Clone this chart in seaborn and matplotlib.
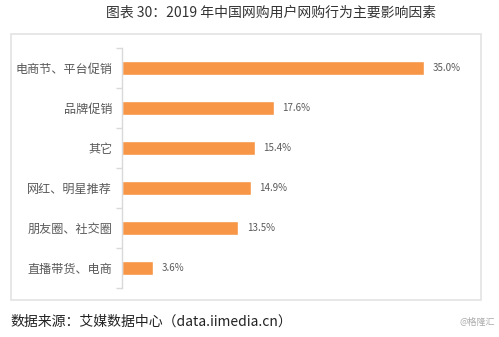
import matplotlib
matplotlib.use("Agg")
import matplotlib.pyplot as plt
import seaborn as sns
import pandas as pd
from matplotlib.patches import Rectangle

categories = ["电商节、平台促销", "品牌促销", "其它", "网红、明星推荐", "朋友圈、社交圈", "直播带货、电商"]
values = [35.0, 17.6, 15.4, 14.9, 13.5, 3.6]
value_labels = ["35.0%", "17.6%", "15.4%", "14.9%", "13.5%", "3.6%"]

sns.set_theme(style="white")
plt.rcParams['font.family'] = ['Noto Sans CJK SC', 'DejaVu Sans']

W, H = 499, 337
fig = plt.figure(figsize=(W / 100, H / 100), dpi=100)
fig.patch.set_facecolor("white")

# outer box
fig.add_artist(Rectangle((11 / W, 1 - 300 / H), (481 - 11) / W, (300 - 34) / H,
                         transform=fig.transFigure, fill=False,
                         edgecolor="#E3E3E3", linewidth=1.2))

ax = fig.add_axes([122 / W, 1 - 288 / H, (467 - 122) / W, (288 - 48) / H])
df = pd.DataFrame({"cat": categories, "val": values})
sns.barplot(data=df, y="cat", x="val", orient="h", color="#F79646",
            saturation=1, width=0.33, ax=ax)

ax.set_xlim(0, 40)
ax.set_ylim(5.5, -0.5)
ax.set_xlabel("")
ax.set_ylabel("")
ax.set_xticks([])
for s in ["top", "right", "bottom"]:
    ax.spines[s].set_visible(False)
ax.spines["left"].set_color("#D9D9D9")
ax.spines["left"].set_linewidth(1.0)
ax.tick_params(axis="y", which="major", length=0, pad=7, labelsize=8.7, labelcolor="#595959")
ax.set_yticks([i - 0.5 for i in range(7)], minor=True)
ax.tick_params(axis="y", which="minor", length=4, color="#D9D9D9", width=1, left=True)

for i, (v, lab) in enumerate(zip(values, value_labels)):
    ax.text(v + 1.0, i, lab, va="center", ha="left", fontsize=7, color="#595959")

fig.text(271 / W, 1 - 13 / H, "图表 30：2019 年中国网购用户网购行为主要影响因素",
         ha="center", va="center", fontsize=10, color="#333333")
fig.text(10 / W, 1 - 322 / H, "数据来源：艾媒数据中心（data.iimedia.cn）",
         ha="left", va="center", fontsize=10, color="#222222")
fig.text(495 / W, 1 - 322 / H, "@格隆汇", ha="right", va="center",
         fontsize=6.5, color="#AAAAAA")

fig.savefig("out.png", dpi=100)
